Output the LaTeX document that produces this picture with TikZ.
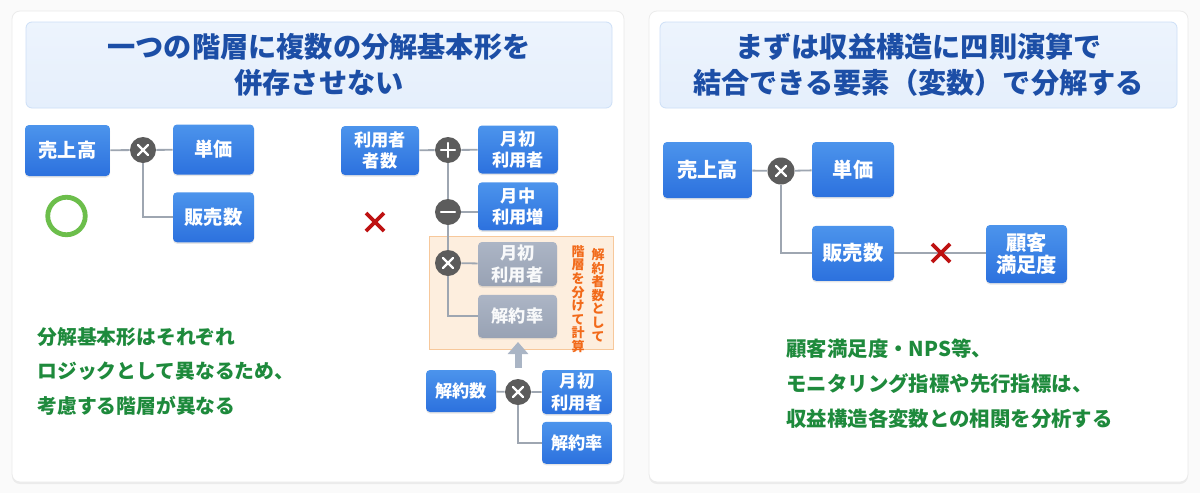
\documentclass[tikz,border=0pt]{standalone}
\usepackage{fontspec}
\setmainfont{Noto Sans CJK JP}
\usetikzlibrary{positioning,shadows,arrows.meta,calc}
\definecolor{boxtop}{RGB}{76,148,236}
\definecolor{boxbot}{RGB}{44,113,222}
\definecolor{ghosttop}{RGB}{172,181,197}
\definecolor{ghostbot}{RGB}{152,162,180}
\definecolor{titleblue}{RGB}{28,78,166}
\definecolor{titlefill}{RGB}{229,239,252}
\definecolor{titleedge}{RGB}{205,223,247}
\definecolor{opgray}{RGB}{92,92,92}
\definecolor{linkgray}{RGB}{158,166,177}
\definecolor{okgreen}{RGB}{108,190,75}
\definecolor{notegreen}{RGB}{30,138,60}
\definecolor{ngred}{RGB}{190,18,18}
\definecolor{zonefill}{RGB}{253,238,222}
\definecolor{zoneedge}{RGB}{247,200,155}
\definecolor{zonetext}{RGB}{242,106,26}
\definecolor{arrowgray}{RGB}{170,181,197}

\begin{document}
\begin{tikzpicture}[x=1pt, y=-1pt, thick, >=Stealth]
  \tikzstyle{card} = [fill=white, draw=black!8, line width=0.8pt, rounded corners=8pt, drop shadow={shadow xshift=0pt, shadow yshift=-2pt, opacity=0.12}]
  \tikzstyle{titlebox} = [rectangle, rounded corners=6pt, top color=titlefill!70, bottom color=titlefill, draw=titleedge, line width=0.8pt, text=titleblue, font=\bfseries\fontsize{28.2}{35.5}\selectfont, align=center, minimum height=86pt]
  \tikzstyle{box} = [rectangle, rounded corners=4pt, top color=boxtop, bottom color=boxbot, draw=none, text=white, font=\bfseries\fontsize{19.2}{21}\selectfont, align=center, inner sep=0pt, minimum width=81pt, minimum height=50pt, drop shadow={shadow xshift=0pt, shadow yshift=-1.5pt, opacity=0.2}]
  \tikzstyle{small} = [font=\bfseries\fontsize{17.2}{21.5}\selectfont]
  \tikzstyle{ghost} = [box, top color=ghosttop, bottom color=ghostbot, text=white!92!ghosttop, font=\bfseries\fontsize{17.2}{21.5}\selectfont, minimum width=79pt, minimum height=44pt]
  \tikzstyle{op} = [circle, fill=opgray, minimum size=26pt, inner sep=0pt]
  \tikzstyle{opmul} = [op, path picture={\draw[white, line width=2.2pt, line cap=round] (path picture bounding box.center) ++(-5pt,-5pt) -- ++(10pt,10pt) ++(-10pt,0pt) -- ++(10pt,-10pt);}]
  \tikzstyle{opadd} = [op, path picture={\draw[white, line width=2.2pt, line cap=round] (path picture bounding box.center) ++(-7pt,0pt) -- ++(14pt,0pt) ++(-7pt,-7pt) -- ++(0pt,14pt);}]
  \tikzstyle{opsub} = [op, path picture={\draw[white, line width=2.4pt, line cap=round] (path picture bounding box.center) ++(-7pt,0pt) -- ++(14pt,0pt);}]
  \tikzstyle{link} = [draw=linkgray, line width=1.8pt]
  \tikzstyle{okmark} = [circle, draw=okgreen, line width=4.8pt, minimum size=37.5pt, inner sep=0pt]
  \tikzstyle{ngmark} = [minimum size=22pt, inner sep=0pt, path picture={\draw[ngred, line width=3.6pt] (path picture bounding box.center) ++(-9pt,-9pt) -- ++(18pt,18pt) ++(-18pt,0pt) -- ++(18pt,-18pt);}]
  \tikzstyle{note} = [text=notegreen, font=\bfseries\fontsize{19.8}{34.5}\selectfont, align=left, inner sep=0pt, anchor=west]
  \tikzstyle{vtext} = [text=zonetext, font=\bfseries\fontsize{13}{13.6}\selectfont, align=center, inner sep=0pt]
  \tikzstyle{zone} = [rectangle, fill=zonefill, draw=zoneedge, line width=1pt, minimum width=184pt, minimum height=113pt]

  \fill[black!2] (0,0) rectangle (1200,493);
  \useasboundingbox (0,0) rectangle (1200,493);

  % cards
  \path[card] (12,11) rectangle (624,482);
  \path[card] (649,11) rectangle (1188,482);

  % left card
  \node[titlebox, minimum width=586pt] (titleL) at (319,65) {一つの階層に複数の分解基本形を\\併存させない};

  \node[box, minimum width=85pt, minimum height=51pt] (salesL) at (67.5,150.5) {売上高};
  \node[opmul] (mulL) at (143,150) {};
  \node[box] (priceL) at (213.5,149.5) {単価};
  \node[box] (qtyL) [below=17pt of priceL] {販売数};
  \node[okmark] (okL) at (66.5,216) {};

  \draw[link] (salesL) -- (mulL) -- (priceL);
  \draw[link] (mulL) |- (qtyL);

  \node[zone] (churnzone) at (521,292.5) {};
  \node[box, small, minimum width=78pt, minimum height=49pt] (usersM) at (380,150.5) {利用者\\者数};
  \node[opadd] (addM) at (448,150) {};
  \node[box, small, minimum width=80pt, minimum height=48pt] (startM) at (518,149.5) {月初\\利用者};
  \node[box, small, minimum width=80pt, minimum height=48pt] (growM) [below=8pt of startM] {月中\\利用増};
  \node[opsub] (subM) at (448,212) {};
  \node[opmul] (mulM) at (448,263) {};
  \node[ghost] (startG) at (517.5,264) {月初\\利用者};
  \node[ghost, minimum height=43pt] (churnG) [below=8pt of startG] {解約率};
  \node[vtext] (noteA) at (598,295) {解\\約\\者\\数\\と\\し\\て};
  \node[vtext] (noteB) at (578,299) {階\\層\\を\\分\\け\\て\\計\\算};

  \draw[link] (usersM) -- (addM) -- (startM);
  \draw[link] (addM) -- (subM) -- (mulM);
  \draw[link] (subM) -- (subM -| growM.west);
  \draw[link] (mulM) -- (startG);
  \draw[link] (mulM) |- (churnG);
  \node[ngmark] (ngL) at (375,222) {};

  \node[box, small, minimum width=70pt, minimum height=42pt] (cancelB) at (461,391) {解約数};
  \node[opmul] (mulB) at (518,392) {};
  \node[box, small, minimum width=70pt, minimum height=44pt] (startB) at (577,392) {月初\\利用者};
  \node[box, small, minimum width=70pt, minimum height=42pt] (churnB) [below=7pt of startB] {解約率};

  \draw[link] (cancelB) -- (mulB) -- (startB);
  \draw[link] (mulB) |- (churnB);

  \coordinate (arrowfoot) at (518,368);
  \coordinate (arrowtip) at (518,342);
  \draw[arrowgray, line width=7pt, -{Triangle[width=20pt, length=12pt]}] (arrowfoot) -- (arrowtip);

  \node[note] (noteL) at (37,371) {分解基本形はそれぞれ\\ロジックとして異なるため、\\考慮する階層が異なる};

  % right card
  \node[titlebox, minimum width=517pt] (titleR) at (918.5,65) {まずは収益構造に四則演算で\\結合できる要素（変数）で分解する};

  \node[box, font=\bfseries\fontsize{20.3}{22.5}\selectfont, minimum width=89pt, minimum height=56pt] (salesR) at (707.5,170) {売上高};
  \node[opmul, minimum size=27pt] (mulR) at (781,171) {};
  \node[box, font=\bfseries\fontsize{20.3}{22.5}\selectfont, minimum width=82pt, minimum height=55pt] (priceR) at (853,169.5) {単価};
  \node[box, font=\bfseries\fontsize{20.3}{22.5}\selectfont, minimum width=82pt, minimum height=55pt] (qtyR) [below=28pt of priceR] {販売数};
  \node[box, font=\bfseries\fontsize{20.3}{22.5}\selectfont, minimum width=81pt, minimum height=58pt] (satR) at (1026.5,254) {顧客\\満足度};

  \draw[link] (salesR) -- (mulR) -- (priceR);
  \draw[link] (mulR) |- (qtyR);
  \draw[link] (qtyR) -- (qtyR -| satR.west);
  \node[ngmark] (ngR) at (941,253) {};

  \node[note, font=\bfseries\fontsize{20.4}{35}\selectfont] (noteR) at (786,384) {顧客満足度・NPS等、\\モニタリング指標や先行指標は、\\収益構造各変数との相関を分析する};
\end{tikzpicture}
\end{document}
